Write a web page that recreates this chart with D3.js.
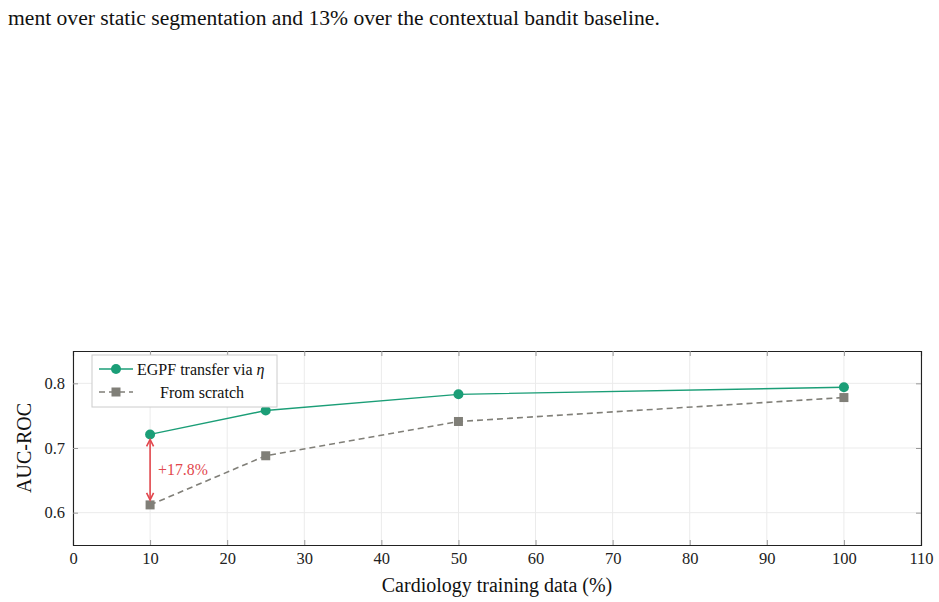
<!DOCTYPE html>
<html>
<head>
<meta charset="utf-8">
<script src="https://cdn.jsdelivr.net/npm/d3@7"></script>
<style>
  body { margin: 0; background: #fff; }
  svg { display: block; font-family: "Liberation Serif", "DejaVu Serif", serif; }
</style>
</head>
<body>
<svg id="chart"></svg>
<script>
// data
const xValues = [10, 25, 50, 100];
const transferAuc = [0.721, 0.758, 0.783, 0.794];
const scratchAuc = [0.612, 0.688, 0.741, 0.778];
const xTicks = [0, 10, 20, 30, 40, 50, 60, 70, 80, 90, 100, 110];
const yTicks = [0.6, 0.7, 0.8];
const seriesNames = ["EGPF transfer via ", "From scratch"];
const gainLabel = "+17.8%";
const captionTail = "ment over static segmentation and 13% over the contextual bandit baseline.";

const W = 939, H = 602;
const margin = {top: 351, left: 73, right: 18, bottom: 57};
const width = W - margin.left - margin.right;
const height = H - margin.top - margin.bottom;

const green = "#1b9e77";
const gray = "#807f78";
const red = "#e2474d";

const svg = d3.select("#chart").attr("width", W).attr("height", H);

// tail of the body text above the figure
svg.append("text")
  .attr("x", 8).attr("y", 25)
  .attr("font-size", 21.6)
  .attr("fill", "#111")
  .text(captionTail);

const g = svg.append("g").attr("transform", `translate(${margin.left},${margin.top})`);

const x = d3.scaleLinear().domain([0, 110]).range([0, width]);
const y = d3.scaleLinear().domain([0.55, 0.85]).range([height, 0]);

// grid
g.append("g").selectAll("line").data(xTicks).enter().append("line")
  .attr("x1", d => x(d)).attr("x2", d => x(d))
  .attr("y1", 0).attr("y2", height)
  .attr("stroke", "#ebebeb").attr("stroke-width", 1);
g.append("g").selectAll("line").data(yTicks).enter().append("line")
  .attr("x1", 0).attr("x2", width)
  .attr("y1", d => y(d)).attr("y2", d => y(d))
  .attr("stroke", "#ebebeb").attr("stroke-width", 1);

// axes with inward ticks
const xBottom = g.append("g").attr("transform", `translate(0,${height})`)
  .call(d3.axisBottom(x).tickValues(xTicks).tickSize(-5).tickPadding(7));
const xTop = g.append("g")
  .call(d3.axisTop(x).tickValues(xTicks).tickSize(-5).tickFormat(""));
const yLeft = g.append("g")
  .call(d3.axisLeft(y).tickValues(yTicks).tickSize(-5).tickPadding(8).tickFormat(d3.format(".1f")));
const yRight = g.append("g").attr("transform", `translate(${width},0)`)
  .call(d3.axisRight(y).tickValues(yTicks).tickSize(-5).tickFormat(""));

[xBottom, xTop, yLeft, yRight].forEach(a => {
  a.select(".domain").attr("stroke", "#222").attr("stroke-width", 1.1);
  a.selectAll(".tick line").attr("stroke", "#999");
  a.selectAll("text").attr("font-family", "Liberation Serif, serif").attr("font-size", 16.5).attr("fill", "#222");
});
xBottom.selectAll(".tick").filter(d => d === 0 || d === 110).select("line").remove();
xTop.selectAll(".tick").filter(d => d === 0 || d === 110).select("line").remove();

// axis titles
svg.append("text")
  .attr("x", margin.left + width / 2).attr("y", H - 10)
  .attr("text-anchor", "middle").attr("font-size", 20).attr("fill", "#111")
  .text("Cardiology training data (%)");
svg.append("text")
  .attr("transform", `translate(31,${margin.top + y(0.7)}) rotate(-90)`)
  .attr("text-anchor", "middle").attr("font-size", 20).attr("fill", "#111")
  .text("AUC-ROC");

const line = d3.line().x(d => x(d[0])).y(d => y(d[1]));
const transferPts = xValues.map((v, i) => [v, transferAuc[i]]);
const scratchPts = xValues.map((v, i) => [v, scratchAuc[i]]);

g.append("path").datum(scratchPts).attr("d", line)
  .attr("fill", "none").attr("stroke", gray).attr("stroke-width", 1.6)
  .attr("stroke-dasharray", "6,4");
g.append("g").selectAll("rect").data(scratchPts).enter().append("rect")
  .attr("x", d => x(d[0]) - 4.5).attr("y", d => y(d[1]) - 4.5)
  .attr("width", 9).attr("height", 9).attr("fill", gray);

g.append("path").datum(transferPts).attr("d", line)
  .attr("fill", "none").attr("stroke", green).attr("stroke-width", 1.4);
g.append("g").selectAll("circle").data(transferPts).enter().append("circle")
  .attr("cx", d => x(d[0])).attr("cy", d => y(d[1])).attr("r", 5).attr("fill", green);

// gain arrow at 10%
const ax = x(xValues[0]);
const yTop = y(transferAuc[0]) + 5, yBot = y(scratchAuc[0]) - 5;
g.append("line").attr("x1", ax).attr("x2", ax).attr("y1", yTop + 1).attr("y2", yBot - 1)
  .attr("stroke", red).attr("stroke-width", 1.6);
g.append("path").attr("d", `M${ax - 3.5},${yTop + 7} L${ax},${yTop} L${ax + 3.5},${yTop + 7}`)
  .attr("fill", "none").attr("stroke", red).attr("stroke-width", 1.6);
g.append("path").attr("d", `M${ax - 3.5},${yBot - 7} L${ax},${yBot} L${ax + 3.5},${yBot - 7}`)
  .attr("fill", "none").attr("stroke", red).attr("stroke-width", 1.6);
g.append("text")
  .attr("x", ax + 8).attr("y", (yTop + yBot) / 2 + 5)
  .attr("font-size", 15.8).attr("fill", red).text(gainLabel);

// legend
const leg = g.append("g").attr("transform", "translate(19,4)");
leg.append("rect").attr("width", 185).attr("height", 52)
  .attr("fill", "#fff").attr("stroke", "#ccc").attr("stroke-width", 1);
leg.append("line").attr("x1", 7).attr("x2", 41).attr("y1", 14).attr("y2", 14)
  .attr("stroke", green).attr("stroke-width", 1.4);
leg.append("circle").attr("cx", 24).attr("cy", 14).attr("r", 5).attr("fill", green);
const t1 = leg.append("text").attr("x", 45).attr("y", 19.5).attr("font-size", 16).attr("fill", "#111");
t1.append("tspan").text(seriesNames[0]);
t1.append("tspan").attr("font-style", "italic").text("\u03b7");
leg.append("line").attr("x1", 7).attr("x2", 41).attr("y1", 37).attr("y2", 37)
  .attr("stroke", gray).attr("stroke-width", 1.6).attr("stroke-dasharray", "6,4");
leg.append("rect").attr("x", 19.5).attr("y", 32.5).attr("width", 9).attr("height", 9).attr("fill", gray);
leg.append("text").attr("x", 68).attr("y", 42.5).attr("font-size", 16).attr("fill", "#111")
  .text(seriesNames[1]);
</script>
</body>
</html>
